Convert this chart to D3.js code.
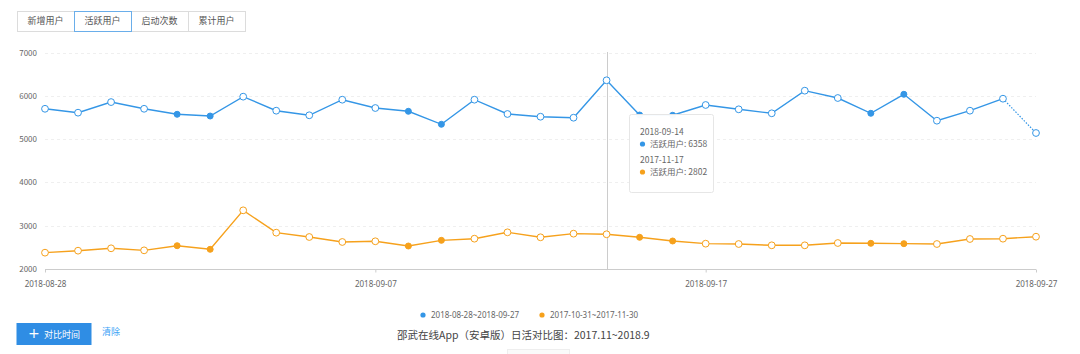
<!DOCTYPE html>
<html><head><meta charset="utf-8">
<script src="https://cdn.jsdelivr.net/npm/d3@7"></script>
<style>
html,body{margin:0;padding:0;background:#fff;}
svg{display:block;font-family:"Microsoft YaHei","Noto Sans CJK SC","Noto Sans",sans-serif;}
</style></head><body>
<svg id="c" width="1080" height="354"></svg>
<script>
const tabs = ["新增用户","活跃用户","启动次数","累计用户"];
const activeTab = 1;
const dates = ["2018-08-28","2018-08-29","2018-08-30","2018-08-31","2018-09-01","2018-09-02","2018-09-03","2018-09-04","2018-09-05","2018-09-06","2018-09-07","2018-09-08","2018-09-09","2018-09-10","2018-09-11","2018-09-12","2018-09-13","2018-09-14","2018-09-15","2018-09-16","2018-09-17","2018-09-18","2018-09-19","2018-09-20","2018-09-21","2018-09-22","2018-09-23","2018-09-24","2018-09-25","2018-09-26","2018-09-27"];
const xTickLabels = ["2018-08-28","2018-09-07","2018-09-17","2018-09-27"];
const yTicks = [2000,3000,4000,5000,6000,7000];
const seriesNames = ["2018-08-28~2018-09-27","2017-10-31~2017-11-30"];
const currentValues = [5700,5610,5855,5700,5573,5533,5980,5656,5550,5910,5718,5642,5342,5910,5580,5517,5494,6358,5556,5550,5788,5688,5596,6118,5949,5596,6035,5425,5656,5933,5141];
const compareValues = [2377,2423,2478,2431,2538,2455,3355,2839,2739,2624,2640,2531,2662,2700,2847,2732,2816,2802,2732,2647,2585,2577,2547,2547,2600,2593,2585,2577,2693,2700,2746];
const weekendCurrent = [4,5,11,12,18,19,25,26];
const weekendCompare = [4,5,11,12,18,19,25,26];
const tooltipIndex = 17;
const tooltipDates = ["2018-09-14","2017-11-17"];
const metricName = "活跃用户";
const caption = "邵武在线App（安卓版）日活对比图：2017.11~2018.9";

const BLUE = "#3496e6", ORANGE = "#f6a11c";
const svg = d3.select("#c");

// Tabs
const tabW = 57, tabX0 = 17, tabY = 11, tabH = 20;
tabs.forEach((t,i)=>{
  svg.append("rect").attr("x",tabX0+i*tabW+0.5).attr("y",tabY+0.5).attr("width",tabW).attr("height",tabH)
    .attr("fill","#fff").attr("stroke","#dcdcdc");
});
tabs.forEach((t,i)=>{
  if(i===activeTab) svg.append("rect").attr("x",tabX0+i*tabW+0.5).attr("y",tabY+0.5).attr("width",tabW).attr("height",tabH)
    .attr("fill","#fff").attr("stroke","#6aaeea");
  svg.append("text").attr("x",tabX0+i*tabW+tabW/2).attr("y",tabY+tabH/2+3.2).attr("text-anchor","middle")
    .attr("font-size",9).attr("fill","#555").text(t);
});

// Scales
const x = d3.scalePoint().domain(dates).range([45,1036]);
const y = d3.scaleLinear().domain([2000,7000]).range([269,52.5]);

// grid
svg.append("g").selectAll("line").data(yTicks.filter(d=>d>2000)).join("line")
  .attr("x1",45).attr("x2",1036).attr("y1",d=>Math.round(y(d))+0.5).attr("y2",d=>Math.round(y(d))+0.5)
  .attr("stroke","#efefef").attr("stroke-dasharray","3,3");
// y labels
svg.append("g").selectAll("text").data(yTicks).join("text")
  .attr("x",37).attr("y",d=>y(d)+3).attr("text-anchor","end").attr("font-size",8).attr("fill","#666").text(d=>d);

// x axis
const xAxis = d3.axisBottom(x).tickValues(xTickLabels).tickSize(3).tickPadding(9);
const gx = svg.append("g").attr("transform","translate(0,269.5)").call(xAxis);
gx.select(".domain").attr("stroke","#ccc").attr("d","M45,0H1036");
gx.selectAll(".tick line").attr("stroke","#ccc");
gx.selectAll(".tick text").attr("font-size",8).attr("fill","#666").attr("font-family","'Noto Sans','DejaVu Sans',sans-serif");

// crosshair
svg.append("line").attr("x1",Math.round(x(dates[tooltipIndex]))+0.5).attr("x2",Math.round(x(dates[tooltipIndex]))+0.5)
  .attr("y1",52).attr("y2",269).attr("stroke","#ccc");

function drawSeries(vals, color, weekends, dottedLast){
  const pts = vals.map((v,i)=>[x(dates[i]), y(v)]);
  const line = d3.line();
  const n = pts.length;
  svg.append("path").attr("d",line(dottedLast?pts.slice(0,n-1):pts)).attr("fill","none").attr("stroke",color).attr("stroke-width",1.4);
  if(dottedLast) svg.append("path").attr("d",line(pts.slice(n-2))).attr("fill","none").attr("stroke",color).attr("stroke-width",1.2).attr("stroke-dasharray","1.5,1.5");
  svg.append("g").selectAll("circle").data(pts).join("circle")
    .attr("cx",d=>d[0]).attr("cy",d=>d[1])
    .attr("r",(d,i)=>weekends.includes(i)?3:3.4)
    .attr("fill",(d,i)=>weekends.includes(i)?color:"#fff")
    .attr("stroke",color).attr("stroke-width",1);
}
drawSeries(currentValues, BLUE, weekendCurrent, true);
drawSeries(compareValues, ORANGE, weekendCompare, false);

// tooltip
const tt = svg.append("g").attr("transform","translate(629,114)");
tt.append("rect").attr("x",0.5).attr("y",0.5).attr("width",84).attr("height",78).attr("rx",2)
  .attr("fill","rgba(255,255,255,0.96)").attr("stroke","#e6e6e6");
const ttRows = [[tooltipDates[0], BLUE, currentValues[tooltipIndex]],[tooltipDates[1], ORANGE, compareValues[tooltipIndex]]];
ttRows.forEach((r,k)=>{
  const oy = 21 + k*28;
  tt.append("text").attr("x",11).attr("y",oy).attr("font-size",8.5).attr("fill","#666").text(r[0]);
  tt.append("circle").attr("cx",13.5).attr("cy",oy+9).attr("r",2.6).attr("fill",r[1]);
  tt.append("text").attr("x",21).attr("y",oy+12.2).attr("font-size",8.5).attr("fill","#666").text(metricName+": "+r[2]);
});

// legend
const legX = [423, 542];
seriesNames.forEach((s,i)=>{
  svg.append("circle").attr("cx",legX[i]).attr("cy",315).attr("r",2.6).attr("fill",i?ORANGE:BLUE);
  svg.append("text").attr("x",legX[i]+8).attr("y",318).attr("font-size",8).attr("fill","#666")
    .attr("font-family","'Noto Sans','DejaVu Sans',sans-serif").text(s);
});

// button
svg.append("rect").attr("x",16.5).attr("y",323).attr("width",75).attr("height",22).attr("fill","#2f8de4");
svg.append("text").attr("x",28).attr("y",338).attr("font-size",14).attr("fill","#fff").attr("font-family","'DejaVu Sans',sans-serif").text("+");
svg.append("text").attr("x",44).attr("y",337.5).attr("font-size",9).attr("fill","#fff").text("对比时间");
svg.append("text").attr("x",102).attr("y",335).attr("font-size",9).attr("fill","#3a9ff5").text("清除");

// caption
svg.append("text").attr("x",397).attr("y",339).attr("font-size",10.5).attr("fill","#444").text(caption);
// small partial element at bottom
svg.append("rect").attr("x",507.5).attr("y",349.5).attr("width",62).attr("height",8).attr("fill","#fafafa").attr("stroke","#eee");
</script>
</body></html>
